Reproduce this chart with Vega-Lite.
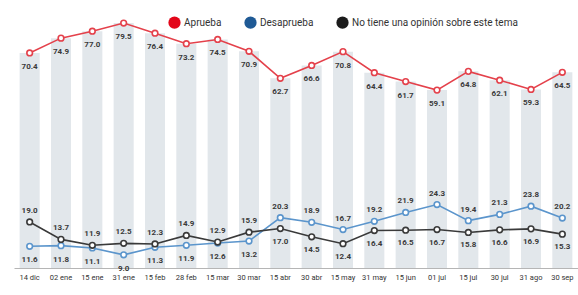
{
  "$schema": "https://vega.github.io/schema/vega-lite/v6.json",
  "width": 564,
  "height": 268,
  "autosize": "none",
  "padding": {"left": 14, "top": 0, "right": 0, "bottom": 27},
  "background": "white",
  "config": {
    "view": {"stroke": null},
    "font": "Roboto",
    "axis": {"grid": false}
  },
  "data": {
    "values": [
      {"fecha": "14 dic", "ap": 70.4, "de": 11.6, "ns": 19.0},
      {"fecha": "02 ene", "ap": 74.9, "de": 11.8, "ns": 13.7},
      {"fecha": "15 ene", "ap": 77.0, "de": 11.1, "ns": 11.9},
      {"fecha": "31 ene", "ap": 79.5, "de": 9.0, "ns": 12.5},
      {"fecha": "15 feb", "ap": 76.4, "de": 11.3, "ns": 12.3},
      {"fecha": "28 feb", "ap": 73.2, "de": 11.9, "ns": 14.9},
      {"fecha": "15 mar", "ap": 74.5, "de": 12.6, "ns": 12.9},
      {"fecha": "30 mar", "ap": 70.9, "de": 13.2, "ns": 15.9},
      {"fecha": "15 abr", "ap": 62.7, "de": 20.3, "ns": 17.0},
      {"fecha": "30 abr", "ap": 66.6, "de": 18.9, "ns": 14.5},
      {"fecha": "15 may", "ap": 70.8, "de": 16.7, "ns": 12.4},
      {"fecha": "31 may", "ap": 64.4, "de": 19.2, "ns": 16.4},
      {"fecha": "15 jun", "ap": 61.7, "de": 21.9, "ns": 16.5},
      {"fecha": "01 jul", "ap": 59.1, "de": 24.3, "ns": 16.7},
      {"fecha": "15 jul", "ap": 64.8, "de": 19.4, "ns": 15.8},
      {"fecha": "30 jul", "ap": 62.1, "de": 21.3, "ns": 16.6},
      {"fecha": "31 ago", "ap": 59.3, "de": 23.8, "ns": 16.9},
      {"fecha": "30 sep", "ap": 64.5, "de": 20.2, "ns": 15.3}
    ]
  },
  "encoding": {
    "x": {
      "field": "fecha",
      "type": "nominal",
      "sort": null,
      "scale": {"paddingInner": 0.36, "paddingOuter": 0.18},
      "axis": {
        "title": null,
        "labelAngle": 0,
        "labelFontSize": 7.5,
        "labelColor": "#333333",
        "labelPadding": 5,
        "ticks": false,
        "domainColor": "#b5b5b5",
        "domainWidth": 1
      }
    }
  },
  "layer": [
    {
      "mark": {"type": "bar", "color": "#e2e7eb"},
      "encoding": {
        "y": {"field": "ap", "type": "quantitative", "scale": {"domain": [5, 86.5], "zero": false, "nice": false}, "axis": null},
        "y2": {"datum": 5}
      }
    },
    {
      "transform": [{"fold": ["ap", "de", "ns"], "as": ["serie", "valor"]}],
      "encoding": {
        "y": {"field": "valor", "type": "quantitative", "scale": {"domain": [5, 86.5], "zero": false, "nice": false}, "axis": null},
        "color": {
          "field": "serie",
          "type": "nominal",
          "scale": {"domain": ["ap", "de", "ns"], "range": ["#e4414b", "#5b95cc", "#3a3a3a"]},
          "legend": {
            "orient": "none",
            "direction": "horizontal",
            "legendX": 154,
            "legendY": 16,
            "title": null,
            "symbolType": "circle",
            "symbolSize": 150,
            "symbolStrokeWidth": 0,
            "labelFontSize": 10,
            "labelColor": "#333333",
            "labelOffset": 3,
            "columnPadding": 22,
            "labelLimit": 300,
            "labelExpr": "datum.value == 'ap' ? 'Aprueba' : datum.value == 'de' ? 'Desaprueba' : 'No tiene una opinión sobre este tema'",
            "symbolFillColor": "#000000",
            "encode": {
              "symbols": {
                "update": {
                  "fill": {"signal": "datum.value == 'ap' ? '#e3061a' : datum.value == 'de' ? '#1f5a95' : '#1b1b1b'"},
                  "stroke": {"value": "transparent"},
                  "fillOpacity": {"value": 1}
                }
              }
            }
          }
        }
      },
      "layer": [
        {"mark": {"type": "line", "strokeWidth": 1.6}},
        {"mark": {"type": "point", "shape": "circle", "filled": false, "fill": "white", "size": 32, "strokeWidth": 1.6, "opacity": 1}}
      ]
    },
    {
      "mark": {"type": "text", "dy": 14, "fontSize": 8, "fontWeight": "bold", "color": "#3a3a3a"},
      "encoding": {
        "y": {"field": "ap", "type": "quantitative"},
        "text": {"field": "ap", "type": "quantitative", "format": ".1f"}
      }
    },
    {
      "transform": [{"filter": "datum.ns >= datum.de"}],
      "mark": {"type": "text", "dy": -11, "fontSize": 8, "fontWeight": "bold", "color": "#3a3a3a"},
      "encoding": {
        "y": {"field": "ns", "type": "quantitative"},
        "text": {"field": "ns", "type": "quantitative", "format": ".1f"}
      }
    },
    {
      "transform": [{"filter": "datum.ns < datum.de"}],
      "mark": {"type": "text", "dy": 13, "fontSize": 8, "fontWeight": "bold", "color": "#3a3a3a"},
      "encoding": {
        "y": {"field": "ns", "type": "quantitative"},
        "text": {"field": "ns", "type": "quantitative", "format": ".1f"}
      }
    },
    {
      "transform": [{"filter": "datum.de > datum.ns"}],
      "mark": {"type": "text", "dy": -11, "fontSize": 8, "fontWeight": "bold", "color": "#3a3a3a"},
      "encoding": {
        "y": {"field": "de", "type": "quantitative"},
        "text": {"field": "de", "type": "quantitative", "format": ".1f"}
      }
    },
    {
      "transform": [{"filter": "datum.de <= datum.ns"}],
      "mark": {"type": "text", "dy": 14, "fontSize": 8, "fontWeight": "bold", "color": "#3a3a3a"},
      "encoding": {
        "y": {"field": "de", "type": "quantitative"},
        "text": {"field": "de", "type": "quantitative", "format": ".1f"}
      }
    }
  ]
}
